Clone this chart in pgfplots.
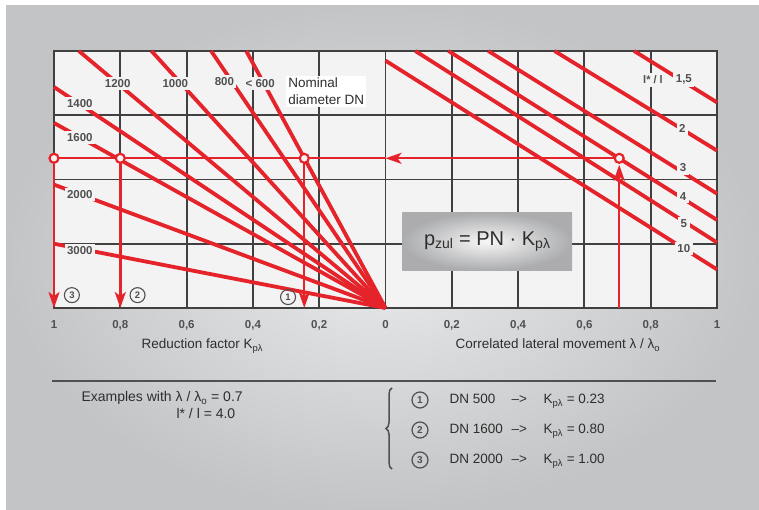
\documentclass[border=0pt]{standalone}
\usepackage{fontspec}
\setmainfont{Liberation Sans}
\usepackage{pgfplots}
\pgfplotsset{compat=1.18}
\usetikzlibrary{arrows.meta,decorations.pathreplacing}

\definecolor{kred}{HTML}{E5232A}
\definecolor{kgrid}{HTML}{404040}
\definecolor{plotbg}{HTML}{F3F3F3}
\definecolor{ktext}{HTML}{505050}
\definecolor{kdark}{HTML}{2E2E2E}
\definecolor{panel}{HTML}{C3C4C6}
\definecolor{panelc}{HTML}{E9EAEB}

\newcommand{\fs}[1]{\fontsize{#1}{#1}\selectfont}

\begin{document}
\begin{tikzpicture}[
  ray/.style={kred, line width=3.8pt},
  ex/.style={kred, line width=2.4pt},
  lab/.style={fill=plotbg, inner sep=2.5pt, font=\bfseries\fs{11.5}, text=ktext},
  num/.style={circle, draw=ktext, line width=1.1pt, inner sep=0pt, minimum size=15pt, font=\bfseries\fs{9.5}, text=ktext},
]
\useasboundingbox (0pt,0pt) rectangle (759pt,510pt);
\fill[white] (0pt,0pt) rectangle (759pt,510pt);
\shade[inner color=panelc, outer color=panel] (6pt,0pt) rectangle (759pt,504pt);

\begin{axis}[
  at={(54pt,202pt)}, anchor=south west,
  scale only axis, width=663pt, height=257pt,
  xmin=-1, xmax=1, ymin=0, ymax=4,
  clip=false,
  axis background/.style={fill=plotbg},
  axis line style={kgrid, line width=2pt},
  grid=major,
  major grid style={kgrid, line width=1.9pt},
  xtick={-1,-0.8,-0.6,-0.4,-0.2,0,0.2,0.4,0.6,0.8,1},
  xticklabels={1,{0,8},{0,6},{0,4},{0,2},0,{0,2},{0,4},{0,6},{0,8},1},
  ytick={1,2,3},
  yticklabels={},
  major tick length=0pt,
  xticklabel style={font=\bfseries\fs{11.5}, text=ktext, yshift=-9pt},
]
% nominal diameter rays (left half, reduction factor)
\addplot[ray, forget plot] coordinates {(0,0) (-0.42,4)};    % < 600
\addplot[ray, forget plot] coordinates {(0,0) (-0.526,4)};   % 800
\addplot[ray, forget plot] coordinates {(0,0) (-0.706,4)};   % 1000
\addplot[ray, forget plot] coordinates {(0,0) (-0.925,4)};   % 1200
\addplot[ray, forget plot] coordinates {(0,0) (-1,3.44)};    % 1400
\addplot[ray, forget plot] coordinates {(0,0) (-1,2.88)};    % 1600
\addplot[ray, forget plot] coordinates {(0,0) (-1,1.92)};    % 2000
\addplot[ray, forget plot] coordinates {(0,0) (-1,1.0)};     % 3000

% l*/l lines (right half)
\addplot[ray, forget plot] coordinates {(0,3.85) (1,0.6)};   % 10
\addplot[ray, forget plot] coordinates {(0.09,4) (1,1.02)};  % 5
\addplot[ray, forget plot] coordinates {(0.19,4) (1,1.37)};  % 4
\addplot[ray, forget plot] coordinates {(0.31,4) (1,1.78)};  % 3
\addplot[ray, forget plot] coordinates {(0.51,4) (1,2.45)};  % 2
\addplot[ray, forget plot] coordinates {(0.75,4) (1,3.2)};   % 1,5

\node[lab] at (axis cs:-0.378,3.5) {< 600};
\node[lab] at (axis cs:-0.486,3.52) {800};
\node[lab] at (axis cs:-0.634,3.5) {1000};
\node[lab] at (axis cs:-0.808,3.5) {1200};
\node[lab] at (axis cs:-0.922,3.18) {1400};
\node[lab] at (axis cs:-0.922,2.66) {1600};
\node[lab] at (axis cs:-0.922,1.77) {2000};
\node[lab] at (axis cs:-0.922,0.89) {3000};

\node[lab] at (axis cs:0.90,3.55) {1,5};
\node[lab] at (axis cs:0.895,2.79) {2};
\node[lab] at (axis cs:0.898,2.18) {3};
\node[lab] at (axis cs:0.898,1.73) {4};
\node[lab] at (axis cs:0.90,1.32) {5};
\node[lab] at (axis cs:0.90,0.93) {10};
\node[lab, font=\bfseries\fs{11}] at (axis cs:0.807,3.55) {l* / l};

\node[anchor=west, align=left, fill=white, inner sep=2pt, font=\fontsize{13.5}{17}\selectfont, text=kdark]
  at (axis cs:-0.3,3.37) {Nominal\\diameter DN};

% worked example
\addplot[ex, forget plot, -{Stealth[length=16pt,width=11pt,inset=4pt]}] coordinates {(0.705,0) (0.705,2.23)};
\addplot[ex, forget plot, -{Stealth[length=16pt,width=11pt,inset=4pt]}] coordinates {(0.705,2.33) (0.0,2.33)};
\addplot[ex, forget plot] coordinates {(0,2.33) (-1,2.33)};
\addplot[ex, forget plot, -{Stealth[length=16pt,width=11pt,inset=4pt]}] coordinates {(-0.245,2.33) (-0.245,0)};
\addplot[ex, forget plot, -{Stealth[length=16pt,width=11pt,inset=4pt]}] coordinates {(-0.8,2.33) (-0.8,0)};
\addplot[ex, forget plot, -{Stealth[length=16pt,width=11pt,inset=4pt]}] coordinates {(-1,2.33) (-1,0)};
\addplot[only marks, mark=*, mark size=4.5pt, mark options={fill=plotbg, draw=kred, line width=2.2pt}, forget plot]
  coordinates {(0.705,2.33) (-0.245,2.33) (-0.8,2.33) (-1,2.33)};

\node[num] at (axis cs:-0.946,0.2) {3};
\node[num] at (axis cs:-0.748,0.2) {2};
\node[num] at (axis cs:-0.294,0.17) {1};

% formula box
\shade[inner color=white!94!gray, outer color=panel!88!black] (axis cs:0.051,0.59) rectangle (axis cs:0.563,1.48);
\node[font=\fs{20}, text=kdark] at (axis cs:0.307,1.03) {p\textsubscript{zul} = PN · K\textsubscript{pλ}};
\end{axis}

\begin{scope}[x=1pt, y=1pt]
% axis titles
\node[anchor=base west, font=\fs{13.5}, text=kdark] at (138,161) {Reduction factor K\textsubscript{pλ}};
\node[anchor=base west, font=\fs{13.5}, text=kdark] at (452,161) {Correlated lateral movement λ / λ\textsubscript{o}};

% separator and example text
\draw[ktext, line width=2pt] (52,129) -- (716,129);
\node[anchor=base west, font=\fs{14}, text=kdark] at (78,108) {Examples with λ / λ\textsubscript{o} = 0.7};
\node[anchor=base west, font=\fs{14}, text=kdark] at (173,91) {l* / l = 4.0};

\draw[ktext, line width=1.5pt, decorate, decoration={brace, amplitude=6pt}] (392,41) -- (392,122);
\begin{scope}[every node/.style={font=\fs{13.5}, text=kdark}]
\node[circle, draw=ktext, line width=1.2pt, inner sep=0pt, minimum size=16pt, font=\bfseries\fs{10}, text=ktext] at (420,110) {1};
\node[circle, draw=ktext, line width=1.2pt, inner sep=0pt, minimum size=16pt, font=\bfseries\fs{10}, text=ktext] at (420,80) {2};
\node[circle, draw=ktext, line width=1.2pt, inner sep=0pt, minimum size=16pt, font=\bfseries\fs{10}, text=ktext] at (420,50) {3};
\node[anchor=base west] at (446,106) {DN 500};
\node[anchor=base west] at (446,76) {DN 1600};
\node[anchor=base west] at (446,46) {DN 2000};
\node[anchor=base west] at (508,106) {–>};
\node[anchor=base west] at (508,76) {–>};
\node[anchor=base west] at (508,46) {–>};
\node[anchor=base west] at (540,106) {K\textsubscript{pλ} = 0.23};
\node[anchor=base west] at (540,76) {K\textsubscript{pλ} = 0.80};
\node[anchor=base west] at (540,46) {K\textsubscript{pλ} = 1.00};
\end{scope}
\end{scope}
\end{tikzpicture}
\end{document}
